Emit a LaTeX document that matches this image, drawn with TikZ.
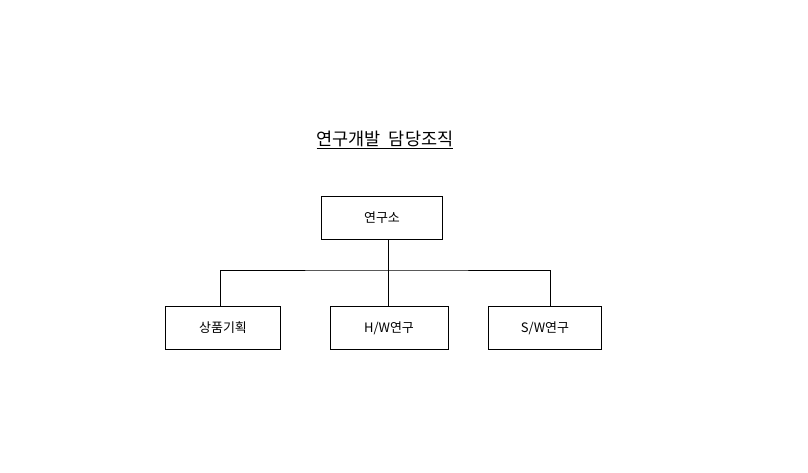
\documentclass[tikz,border=0pt]{standalone}
\usepackage{fontspec}
\setmainfont{Noto Sans CJK KR}
\usetikzlibrary{positioning}
\tikzset{
  unit/.style={draw, line width=0.9pt, minimum height=43pt, inner sep=0pt, font=\fontsize{13}{15}\selectfont},
  link/.style={line width=0.9pt}
}
\begin{document}
\begin{tikzpicture}[x=1pt,y=-1pt]
  \useasboundingbox (0,0) rectangle (808,472);
  % Define the nodes in the picture
  \node (title) at (385,140) {\fontsize{17.5}{20}\selectfont\underline{연구개발\ \ 담당조직}};
  \node (lab) [unit, minimum width=121pt] at (382,218) {연구소};
  \node (plan) [unit, minimum width=115pt] at (223,328) {상품기획};
  \node (hw) [unit, minimum width=118pt] at (389,328) {H/W연구};
  \node (sw) [unit, minimum width=113pt] at (545,328) {S/W연구};
  \coordinate (bus) at (388,270);
  % Define the edges in the picture
  \draw [link] (lab.south -| bus) -- (hw.north -| bus);
  \draw [link] (plan.north -| 220,0) |- (bus) -| (sw.north -| 550,0);
\end{tikzpicture}
\end{document}
